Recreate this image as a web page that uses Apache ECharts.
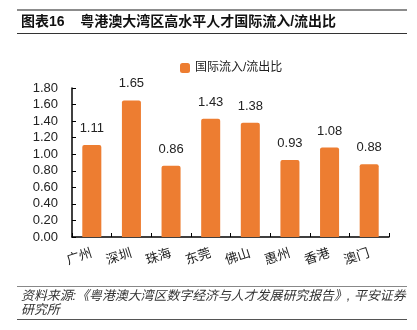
<!DOCTYPE html>
<html>
<head>
<meta charset="utf-8">
<script src="https://cdn.jsdelivr.net/npm/echarts@6/dist/echarts.min.js"></script>
<style>
  html, body { margin: 0; padding: 0; background: #fff; }
  #chart { width: 417px; height: 330px; }
</style>
</head>
<body>
<div id="chart"></div>
<script>
// 粤港澳大湾区各城市高水平人才国际流入/流出比
const cities = ['广州', '深圳', '珠海', '东莞', '佛山', '惠州', '香港', '澳门'];
const ratios = [1.11, 1.65, 0.86, 1.43, 1.38, 0.93, 1.08, 0.88];
const seriesName = '国际流入/流出比';
const yTicks = { min: 0, max: 1.8, interval: 0.2 };

const titleText = '图表16    粤港澳大湾区高水平人才国际流入/流出比';
const sourceLine1 = '资料来源:《粤港澳大湾区数字经济与人才发展研究报告》, 平安证券';
const sourceLine2 = '研究所';

const cjk = '"Liberation Sans", Arial, "Noto Sans CJK SC", sans-serif';
const chart = echarts.init(document.getElementById('chart'), null, { renderer: 'canvas' });

chart.setOption({
  backgroundColor: '#fff',
  animation: false,
  textStyle: { fontFamily: cjk },
  legend: {
    data: [seriesName],
    left: 175,
    top: 57,
    itemWidth: 10,
    itemHeight: 10,
    itemGap: 4,
    icon: 'roundRect',
    textStyle: { fontSize: 12, color: '#222', fontFamily: cjk }
  },
  grid: { left: 72, right: 28, top: 88, bottom: 93 },
  xAxis: {
    type: 'category',
    data: cities,
    axisLine: { lineStyle: { color: '#000', width: 1.5 } },
    axisTick: { show: true, inside: true, length: 4, lineStyle: { color: '#000' } },
    axisLabel: { rotate: 18, fontSize: 13, color: '#222', margin: 16, fontFamily: cjk }
  },
  yAxis: {
    type: 'value',
    min: yTicks.min,
    max: yTicks.max,
    interval: yTicks.interval,
    splitLine: { show: false },
    axisLine: { show: true, lineStyle: { color: '#000', width: 1.5 } },
    axisTick: { show: true, inside: true, length: 4, lineStyle: { color: '#000' } },
    axisLabel: {
      fontSize: 13, color: '#222', margin: 14, fontFamily: cjk,
      formatter: v => v.toFixed(2)
    }
  },
  series: [{
    name: seriesName,
    type: 'bar',
    data: ratios,
    barWidth: '48%',
    itemStyle: { color: '#ED7D31', borderRadius: [2, 2, 0, 0] },
    label: {
      show: true,
      position: 'top',
      distance: 10,
      fontSize: 13,
      color: '#222',
      fontFamily: cjk,
      formatter: p => p.value.toFixed(2)
    }
  }],
  graphic: [
    { type: 'rect', shape: { x: 17, y: 9, width: 390, height: 2 }, style: { fill: '#8c8c8c' } },
    { type: 'text', left: 21, top: 15,
      style: { text: titleText, fontSize: 14, fontWeight: 'bold', fill: '#111', fontFamily: cjk } },
    { type: 'rect', shape: { x: 17, y: 33, width: 390, height: 1 }, style: { fill: '#333' } },
    { type: 'rect', shape: { x: 17, y: 286, width: 390, height: 1 }, style: { fill: '#888' } },
    { type: 'text', left: 21, top: 290,
      style: { text: sourceLine1, fontSize: 12.9, fontStyle: 'italic', fill: '#333', fontFamily: cjk } },
    { type: 'text', left: 21, top: 304,
      style: { text: sourceLine2, fontSize: 12.9, fontStyle: 'italic', fill: '#333', fontFamily: cjk } },
    { type: 'rect', shape: { x: 17, y: 319, width: 390, height: 1 }, style: { fill: '#555' } }
  ]
});
</script>
</body>
</html>
